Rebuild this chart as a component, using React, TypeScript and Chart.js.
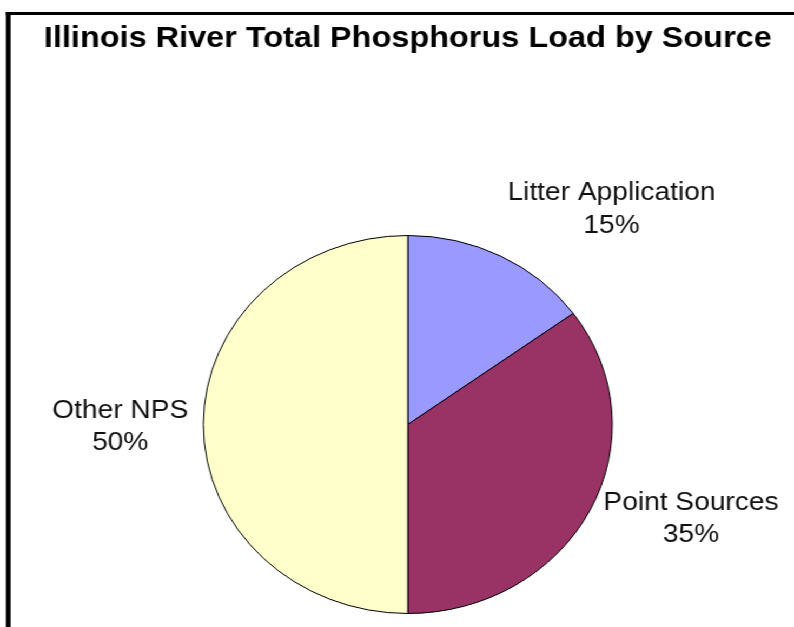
import React, { useEffect, useRef } from "react";
import { Chart, registerables } from "chart.js";

Chart.register(...registerables);

const titleText = "Illinois River Total Phosphorus Load by Source";
const categories = ["Litter Application", "Point Sources", "Other NPS"];
const shares = [15, 35, 50];
const sliceColors = ["#9999FF", "#993366", "#FFFFCC"];

// logical drawing width; the canvas is stretched horizontally to 794px like the original
const LOGICAL_W = 734;
const LOGICAL_H = 627;
const STRETCH = 794 / LOGICAL_W;
const FONT = "'Liberation Sans', Arial, Helvetica, sans-serif";

const framePlugin = {
  id: "frameAndLabels",
  beforeDraw(chart: any) {
    const ctx = chart.ctx;
    ctx.save();
    ctx.fillStyle = "#ffffff";
    ctx.fillRect(0, 0, chart.width, chart.height);
    ctx.fillStyle = "#000000";
    ctx.fillRect(5.5, 12, 4.3, chart.height - 12);
    ctx.fillRect(5.5, 12, chart.width, 3);
    ctx.restore();
  },
  afterDatasetsDraw(chart: any) {
    const ctx = chart.ctx;
    const meta = chart.getDatasetMeta(0);
    const data = chart.data.datasets[0].data as number[];
    const total = data.reduce((a: number, b: number) => a + b, 0);
    const labels = chart.data.labels as string[];
    const lineGap = 32.5;
    const capH = 18.6;
    ctx.save();
    ctx.fillStyle = "#111111";
    ctx.font = `26px ${FONT}`;
    ctx.textBaseline = "alphabetic";
    let cx = 0;
    meta.data.forEach((arc: any, i: number) => {
      const p = arc.getProps(["x", "y", "startAngle", "endAngle", "outerRadius"], true);
      cx = p.x;
      const mid = (p.startAngle + p.endAngle) / 2;
      const t = p.outerRadius + 14;
      const c = Math.cos(mid);
      const s = Math.sin(mid);
      const ax = p.x + t * c;
      const ay = p.y + t * s;
      const lines = [labels[i], `${Math.round((data[i] / total) * 100)}%`];
      const w = Math.max(...lines.map((l) => ctx.measureText(l).width));
      let left: number;
      if (c > 0.25) left = ax;
      else if (c < -0.25) left = ax - w;
      else left = ax - w / 2;
      let base1: number;
      if (s < -0.6) base1 = ay - 11 - lineGap;
      else if (s > 0.6) base1 = ay + capH;
      else base1 = ay - (lineGap + capH) / 2 + capH;
      ctx.textAlign = "center";
      lines.forEach((l, k) => {
        ctx.fillText(l, left + w / 2, base1 + k * lineGap);
      });
    });
    ctx.font = `bold 30px ${FONT}`;
    ctx.textAlign = "center";
    ctx.fillStyle = "#000000";
    ctx.fillText(titleText, cx, 46.5);
    ctx.restore();
  },
};

export default function App() {
  const ref = useRef<HTMLCanvasElement>(null);
  useEffect(() => {
    if (!ref.current) return;
    const chart = new Chart(ref.current, {
      type: "pie",
      data: {
        labels: categories,
        datasets: [
          {
            data: shares,
            backgroundColor: sliceColors,
            borderColor: "#000000",
            borderWidth: 1,
          },
        ],
      },
      options: {
        responsive: false,
        animation: false,
        devicePixelRatio: 1,
        layout: { padding: { left: 187.5, right: 167.5, top: 235, bottom: 13 } },
        plugins: {
          legend: { display: false },
          title: { display: false },
          tooltip: { enabled: false },
        },
      },
      plugins: [framePlugin],
    });
    return () => chart.destroy();
  }, []);
  return (
    <div
      style={{
        position: "absolute",
        left: 0,
        top: 0,
        width: LOGICAL_W,
        height: LOGICAL_H,
        transform: `scaleX(${STRETCH})`,
        transformOrigin: "left top",
        background: "#fff",
      }}
    >
      <canvas ref={ref} width={LOGICAL_W} height={LOGICAL_H} style={{ width: LOGICAL_W, height: LOGICAL_H }} />
    </div>
  );
}
